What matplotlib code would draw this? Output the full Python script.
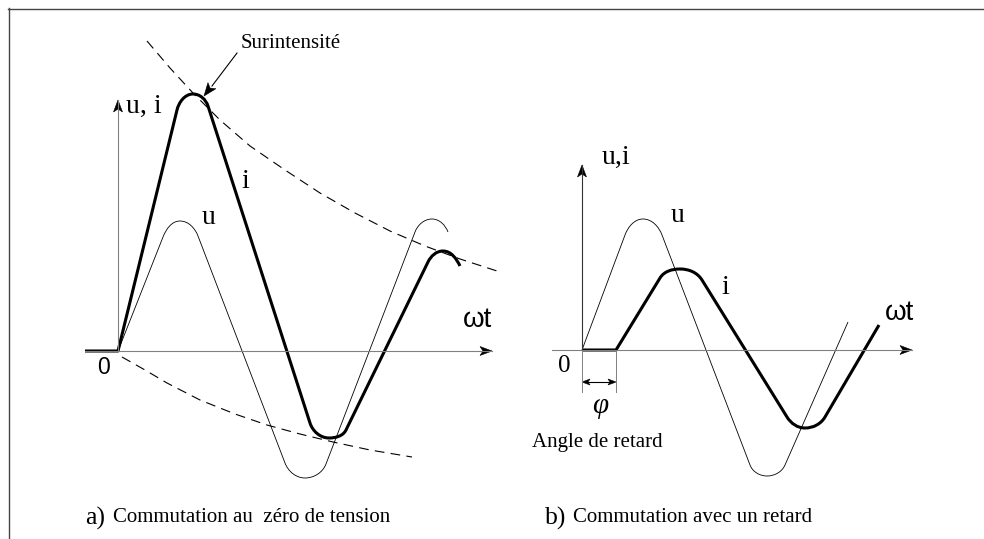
# commutation.py
# Current and voltage at switch-on: a) at zero voltage, b) with a delay angle
import numpy as np
import matplotlib.pyplot as plt
from matplotlib.path import Path
from matplotlib.patches import PathPatch, Polygon

# =======================
# WAVEFORM DATA (pixel coordinates, y pointing down)
# =======================
# a) current i (thick) - apex indices mark the rounded peaks
IA_X = [85, 118, 177, 193, 208, 310, 329, 346, 428, 443, 460]
IA_Y = [351, 351, 110, 94, 106, 423, 438, 430, 262, 251, 266]
IA_APEX = [3, 6, 9]

# a) voltage u (thin)
UA_X = [118, 163, 180, 198, 285, 305, 326, 415, 432, 448]
UA_Y = [351, 237, 221, 236, 463, 478, 464, 232, 219, 232]
UA_APEX = [2, 5, 8]

# a) envelopes of the transient current (dashed)
ENV_UP_X = [147, 170, 193, 220, 250, 285, 320, 355, 390, 425, 460, 497]
ENV_UP_Y = [41, 68, 93, 120, 146, 170, 193, 213, 231, 246, 259, 271]
ENV_LO_X = [122, 145, 167, 200, 235, 267, 300, 333, 370, 412]
ENV_LO_Y = [357, 370, 383, 400, 414, 425, 434, 442, 450, 457]

# b) voltage u (thin)
UB_X = [582, 625, 643, 662, 750, 767, 785, 848]
UB_Y = [350, 235, 219, 235, 465, 476, 465, 322]
UB_APEX = [2, 5]

# b) current i (thick), starts after the delay angle phi
IB_X = [582, 616, 660, 680, 702, 787, 805, 825, 879]
IB_Y = [350, 350, 278, 269, 280, 417, 428, 417, 325]
IB_APEX = [3, 6]

SERIF = "Liberation Serif"
SANS = "Liberation Sans"
AXIS_GREY = "#808080"
LABEL_SIZE = 20
NOTE_SIZE = 15


def unit(v):
    v = np.asarray(v, dtype=float)
    return v / np.hypot(*v)


def wave_path(xs, ys, apexes, k=0.36):
    """Polyline whose apex points are drawn as rounded caps (two cubics)"""
    pts = np.column_stack([xs, ys]).astype(float)
    verts, codes = [pts[0]], [Path.MOVETO]
    i = 1
    while i < len(pts):
        if i in apexes:
            a, m, b = pts[i - 1], pts[i], pts[i + 1]
            d_in = unit(a - pts[i - 2])
            if i + 2 < len(pts):
                d_out = unit(pts[i + 2] - b)
            else:
                d_out = np.array([d_in[0], -d_in[1]])   # hook at the end
            h = np.array([np.sign(b[0] - a[0]), 0.0])
            l1 = k * np.hypot(*(m - a))
            l2 = k * np.hypot(*(b - m))
            verts += [a + l1 * d_in, m - l1 * h, m, m + l2 * h, b - l2 * d_out, b]
            codes += [Path.CURVE4] * 6
            i += 2
        else:
            verts.append(pts[i])
            codes.append(Path.LINETO)
            i += 1
    return Path(verts, codes)


def arrow_head(ax, tip, direction, length=12, width=9, notch=3):
    tip = np.asarray(tip, dtype=float)
    d = unit(direction)
    n = np.array([-d[1], d[0]])
    base = tip - d * length
    pts = [tip, base + n * width / 2, tip - d * (length - notch), base - n * width / 2]
    ax.add_patch(Polygon(pts, closed=True, fc="black", ec="black", lw=0.4))


def axis_arrow(ax, start, tip, color=AXIS_GREY, lw=0.8):
    ax.plot([start[0], tip[0]], [start[1], tip[1]], color=color, lw=lw)
    arrow_head(ax, tip, np.subtract(tip, start))


# =======================
# FIGURE
# =======================
plt.rcParams["lines.scale_dashes"] = False
fig = plt.figure(figsize=(9.84, 5.39), dpi=100)
ax = fig.add_axes([0, 0, 1, 1])
ax.set_xlim(0, 984)
ax.set_ylim(539, 0)
ax.axis("off")

# frame (top and left edges)
ax.plot([8, 984], [8.5, 8.5], color="#444444", lw=1.0)
ax.plot([8.5, 8.5], [8, 539], color="#444444", lw=1.0)

# ---------- panel a ----------
axis_arrow(ax, (85, 351), (492, 351))
axis_arrow(ax, (118, 351), (118, 100))

ax.plot(ENV_UP_X, ENV_UP_Y, color="black", lw=0.8, dashes=(7, 4.5))
ax.plot(ENV_LO_X, ENV_LO_Y, color="black", lw=0.8, dashes=(7, 4.5))

ax.add_patch(PathPatch(wave_path(UA_X, UA_Y, UA_APEX), fc="none", ec="black", lw=0.6))
ax.add_patch(PathPatch(wave_path(IA_X, IA_Y, IA_APEX), fc="none", ec="black", lw=2.2,
                       capstyle="butt", joinstyle="round"))

# overcurrent pointer
ax.plot([237, 212], [53, 86], color="black", lw=0.8)
arrow_head(ax, (204, 96), (-33, 43), length=13, width=10)
ax.text(291, 44, "Surintensité", family=SERIF, fontsize=NOTE_SIZE, ha="center", va="center")

ax.text(126, 106, "u, i", family=SERIF, fontsize=LABEL_SIZE, ha="left", va="center")
ax.text(245, 181, "i", family=SERIF, fontsize=LABEL_SIZE, ha="center", va="center")
ax.text(209, 218, "u", family=SERIF, fontsize=LABEL_SIZE, ha="center", va="center")
ax.text(477, 320, "ωt", family=SANS, fontsize=LABEL_SIZE, ha="center", va="center")
ax.text(104, 368, "0", family=SANS, fontsize=16.5, ha="center", va="center")

ax.text(85, 525, "a)", family=SERIF, fontsize=18.5, ha="left", va="baseline")
ax.text(113, 522, "Commutation au  zéro de tension", family=SERIF, fontsize=NOTE_SIZE,
        ha="left", va="baseline")

# ---------- panel b ----------
axis_arrow(ax, (552, 350), (912, 350))
axis_arrow(ax, (582, 350), (582, 165), color="#333333")

ax.add_patch(PathPatch(wave_path(UB_X, UB_Y, UB_APEX), fc="none", ec="black", lw=0.6))
ax.add_patch(PathPatch(wave_path(IB_X, IB_Y, IB_APEX), fc="none", ec="black", lw=2.2,
                       capstyle="butt", joinstyle="round"))

# delay angle marker
ax.plot([IB_X[0], IB_X[0]], [350, 392], color=AXIS_GREY, lw=0.7)
ax.plot([IB_X[1], IB_X[1]], [350, 392], color=AXIS_GREY, lw=0.7)
ax.plot([IB_X[0] + 3, IB_X[1] - 3], [382, 382], color="black", lw=0.8)
arrow_head(ax, (IB_X[0], 382), (-1, 0), length=8, width=6, notch=2)
arrow_head(ax, (IB_X[1], 382), (1, 0), length=8, width=6, notch=2)

ax.text(616, 157, "u,i", family=SERIF, fontsize=LABEL_SIZE, ha="center", va="center")
ax.text(678, 216, "u", family=SERIF, fontsize=LABEL_SIZE, ha="center", va="center")
ax.text(725, 288, "i", family=SERIF, fontsize=LABEL_SIZE, ha="center", va="center")
ax.text(900, 313, "ωt", family=SANS, fontsize=LABEL_SIZE, ha="center", va="center")
ax.text(564, 366, "0", family=SERIF, fontsize=18, ha="center", va="center")
ax.text(600, 406, "φ", family=SERIF, style="italic", fontsize=21, ha="center", va="center")
ax.text(597, 443, "Angle de retard", family=SERIF, fontsize=NOTE_SIZE, ha="center", va="center")

ax.text(545, 525, "b)", family=SERIF, fontsize=18.5, ha="left", va="baseline")
ax.text(573, 522, "Commutation avec un retard", family=SERIF, fontsize=NOTE_SIZE,
        ha="left", va="baseline")

fig.savefig("out.png", dpi=100)
